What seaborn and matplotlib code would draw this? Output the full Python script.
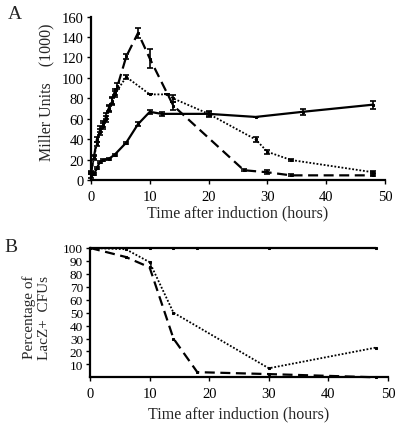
import matplotlib
matplotlib.use("Agg")
import matplotlib.pyplot as plt
import seaborn as sns
import numpy as np

sns.set_style("ticks")
plt.rcParams['font.family'] = ['Liberation Serif', 'DejaVu Serif']

# ---------------- Panel A data (Miller units x1000) ----------------
dash_t = [0, 0.5, 1, 1.5, 2, 2.5, 3, 3.5, 4, 4.5, 6, 8, 10, 14, 26, 30, 34, 48]
dash_v = [8, 23, 40, 47, 53, 60, 70, 78, 86, 92, 121, 144, 119, 73, 10, 8, 5, 5]
dash_e = [1, 2, 2, 3, 3, 3, 3, 3, 3, 3, 2, 5, 9, 4, 1, 2, 1, 1]

dot_t = [0, 0.5, 1, 1.5, 2, 2.5, 3, 3.5, 4, 6, 10, 13, 14, 20, 28, 30, 34, 48]
dot_v = [7, 22, 36, 50, 55, 63, 71, 77, 84, 101, 84, 84, 80, 65, 40, 28, 20, 8]
dot_e = [1, 2, 2, 3, 3, 3, 3, 3, 3, 2, 0, 0, 3, 2, 2, 2, 1, 1]

sol_t = [0, 0.5, 1, 1.5, 2, 3, 4, 6, 8, 10, 12, 20, 28, 36, 48]
sol_v = [4, 6, 12, 18, 20, 21, 25, 37, 55, 67, 65, 65, 62, 67, 74]
sol_e = [2, 1, 1, 1, 1, 1, 1, 1, 2, 2, 2, 3, 0, 3, 4]

# ---------------- Panel B data (% LacZ+ CFUs) ----------------
b_sol_t = [0, 6, 10, 14, 18, 30, 48]
b_sol_v = [100, 100, 100, 100, 100, 100, 100]
b_dot_t = [0, 6, 10, 14, 30, 48]
b_dot_v = [100, 99, 89, 50, 7, 23]
b_dash_t = [0, 6, 10, 14, 18, 30, 48]
b_dash_v = [100, 93, 85, 30, 4, 2.5, 0]

xticks = [0, 10, 20, 30, 40, 50]
a_yticks = [0, 20, 40, 60, 80, 100, 120, 140, 160]
b_yticks = [10, 20, 30, 40, 50, 60, 70, 80, 90, 100]

fig = plt.figure(figsize=(4.0, 4.27), dpi=100)
axA = fig.add_axes([0.2275, 0.575, 0.735, 0.384])
axB = fig.add_axes([0.225, 0.114, 0.745, 0.303])

styles = {
    'solid': dict(linestyle='-', lw=1.6),
    'dash': dict(linestyle=(0, (4.5, 2.5)), lw=1.6),
    'dot': dict(linestyle=(0, (1, 1)), lw=1.3),
}

def draw(ax, t, v, st, e=None):
    sns.lineplot(x=t, y=v, ax=ax, color='black', marker='s', markersize=2,
                 markeredgecolor='black', errorbar=None, sort=False,
                 clip_on=False, **styles[st])
    if e is not None:
        ax.errorbar(t, v, yerr=e, fmt='none', ecolor='black', elinewidth=1.2,
                    capsize=2.5, capthick=1.2, clip_on=False)

draw(axA, sol_t, sol_v, 'solid', sol_e)
draw(axA, dot_t, dot_v, 'dot', dot_e)
draw(axA, dash_t, dash_v, 'dash', dash_e)

draw(axB, b_sol_t, b_sol_v, 'solid')
draw(axB, b_dot_t, b_dot_v, 'dot')
draw(axB, b_dash_t, b_dash_v, 'dash')

for ax in (axA, axB):
    ax.set_xlim(0, 50)
    ax.set_xticks(xticks)
    sns.despine(ax=ax)
    for s in ('left', 'bottom'):
        ax.spines[s].set_linewidth(1.6)
        ax.spines[s].set_color('black')
    ax.tick_params(axis='both', length=3, width=1, labelsize=10.5, colors='black', pad=2)
    ax.tick_params(axis='x', pad=4)

axB.tick_params(axis='y', labelsize=9.5, pad=2)

axA.set_ylim(0, 160)
axA.set_yticks(a_yticks)
axA.set_xlabel("Time after induction (hours)", fontsize=11.5, labelpad=1)
axA.set_ylabel("Miller Units    (1000)", fontsize=11.5)
axA.yaxis.set_label_coords(-0.125, 0.545)

axB.set_ylim(0, 100)
axB.set_yticks(b_yticks)
axB.set_xlabel("Time after induction (hours)", fontsize=11.5, labelpad=4)
axB.set_ylabel("Percentage of\nLacZ+  CFUs", fontsize=11, linespacing=1.25)
axB.yaxis.set_label_coords(-0.13, 0.47)

fig.text(0.02, 0.955, "A", fontsize=14)
fig.text(0.01, 0.41, "B", fontsize=14)

fig.savefig("out.png", dpi=100)
